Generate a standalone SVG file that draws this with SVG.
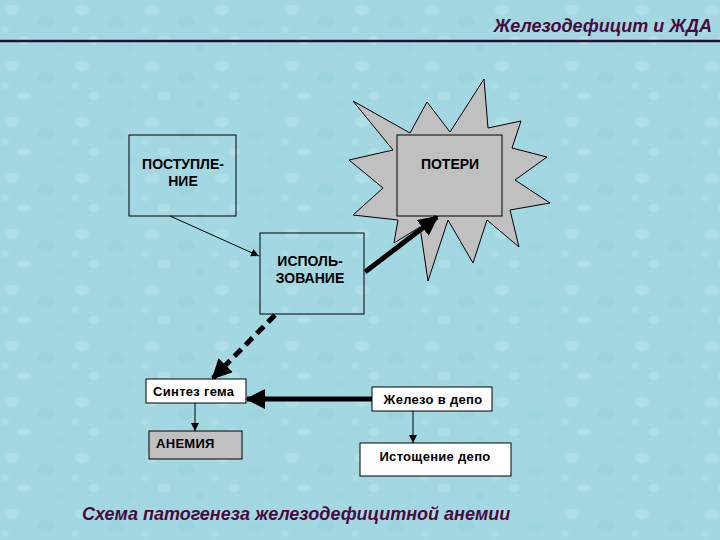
<svg xmlns="http://www.w3.org/2000/svg" width="720" height="540" viewBox="0 0 720 540">
<defs>
<style>
.box{stroke:#000;stroke-width:1}
.lbl{font-family:"Liberation Sans",Arial,sans-serif;font-weight:bold;font-size:14px;fill:#000;text-anchor:middle}
.sm{font-family:"Liberation Sans",Arial,sans-serif;font-weight:bold;font-size:13px;fill:#000;letter-spacing:0.3px}
.ttl{font-family:"Liberation Sans",Arial,sans-serif;font-weight:bold;font-style:italic;font-size:18px;fill:#4a0a3c}
.thin{stroke:#000;stroke-width:1;fill:none}
.thick{stroke:#000;stroke-width:5;fill:none}
</style>
<marker id="ah" viewBox="0 0 10 10" refX="10" refY="5" markerWidth="8" markerHeight="8" markerUnits="userSpaceOnUse" orient="auto"><path d="M0,0 L10,5 L0,10 z" fill="#000"/></marker>
<marker id="ahb" viewBox="0 0 10 10" refX="9" refY="5" markerWidth="4" markerHeight="4" orient="auto"><path d="M0,0 L10,5 L0,10 z" fill="#000"/></marker>
<pattern id="drops" width="70" height="56" patternUnits="userSpaceOnUse">
<rect width="70" height="56" fill="#a3d8e2"/>
<ellipse cx="12" cy="10" rx="7" ry="5" fill="#bde4eb" opacity="0.5"/>
<ellipse cx="46" cy="22" rx="9" ry="6" fill="#92cfda" opacity="0.35"/>
<ellipse cx="24" cy="40" rx="6" ry="4" fill="#c2e6ec" opacity="0.45"/>
<ellipse cx="60" cy="48" rx="5" ry="4" fill="#95d0db" opacity="0.35"/>
<ellipse cx="5" cy="30" rx="4" ry="3" fill="#bbe3ea" opacity="0.4"/>
</pattern>
</defs>
<rect width="720" height="540" fill="url(#drops)"/>
<text class="ttl" x="712" y="32" text-anchor="end">Железодефицит и ЖДА</text>
<line x1="0" y1="41" x2="720" y2="41" stroke="#2a1038" stroke-width="2.5"/>

<g id="poteri">
<polygon class="box" fill="#c0c0c0" points="484,79 450,132 427,102 410,133 353,101 393,150 349,160 383,188 353,215 398,220 394,243 420,227 428,281 448,220 473,263 487,220 519,247 510,210 550,203 515,180 547,157 512,148 521,121 488,128"/>
<rect class="box" x="397" y="135" width="105" height="81" fill="#c0c0c0"/>
<text class="lbl" x="450" y="169">ПОТЕРИ</text>
</g>
<g id="postuplenie">
<rect class="box" x="129" y="135" width="107" height="81" fill="none"/>
<text class="lbl" x="183" y="169">ПОСТУПЛЕ-</text>
<text class="lbl" x="183" y="186">НИЕ</text>
</g>
<g id="ispolzovanie">
<rect class="box" x="260" y="233" width="104" height="81" fill="none"/>
<text class="lbl" x="310" y="266">ИСПОЛЬ-</text>
<text class="lbl" x="310" y="283">ЗОВАНИЕ</text>
</g>
<g id="sintez">
<rect class="box" x="146" y="379" width="100" height="24" fill="#fff"/>
<text class="sm" x="153" y="396">Синтез гема</text>
</g>
<g id="anemia">
<rect class="box" x="149" y="431" width="93" height="28" fill="#c0c0c0"/>
<text class="sm" x="156" y="448">АНЕМИЯ</text>
</g>
<g id="zhelezo">
<rect class="box" x="372" y="387" width="120" height="24" fill="#fff"/>
<text class="sm" x="433" y="404" text-anchor="middle">Железо в депо</text>
</g>
<g id="istoshchenie">
<rect class="box" x="360" y="443" width="151" height="33" fill="#fff"/>
<text class="sm" x="435" y="461" text-anchor="middle">Истощение депо</text>
</g>

<g id="connectors">
<line class="thin" x1="170" y1="216" x2="259" y2="256" marker-end="url(#ah)"/>
<line class="thick" x1="365" y1="272" x2="437" y2="217" marker-end="url(#ahb)"/>
<line class="thick" x1="275" y1="315" x2="213" y2="378" stroke-dasharray="10,6" marker-end="url(#ahb)"/>
<line class="thick" x1="372" y1="399" x2="247" y2="399" marker-end="url(#ahb)"/>
<line class="thin" x1="195" y1="403" x2="195" y2="431" marker-end="url(#ah)"/>
<line class="thin" x1="413" y1="411" x2="413" y2="443" marker-end="url(#ah)"/>
</g>

<text class="ttl" x="82" y="520">Схема патогенеза железодефицитной анемии</text>
</svg>
